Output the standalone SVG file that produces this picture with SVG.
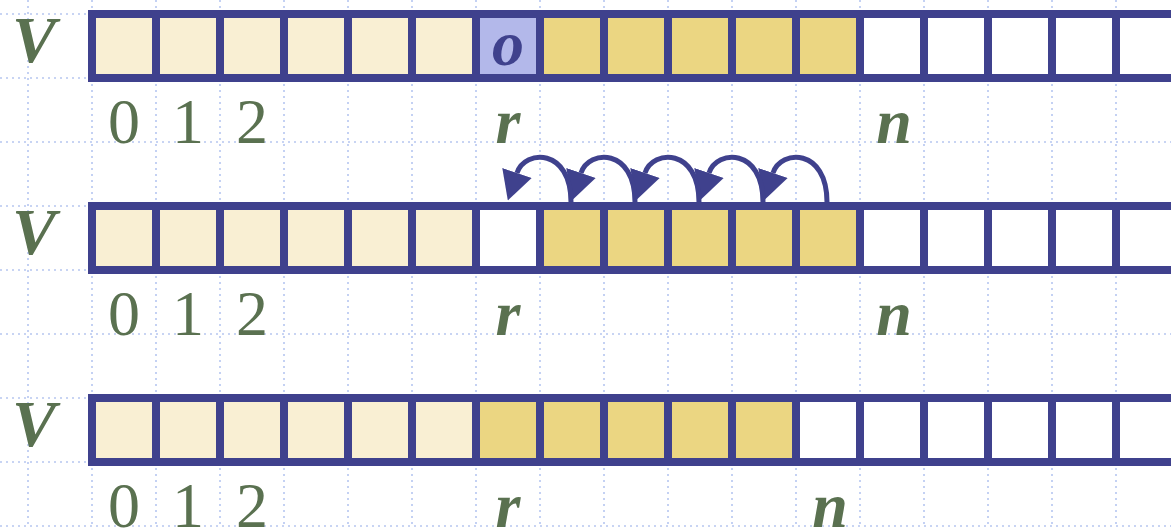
<svg xmlns="http://www.w3.org/2000/svg" width="1171" height="528" viewBox="0 0 1171 528">
<defs>
<style>
.grid line{stroke:#B6C6F0;stroke-width:1.6;stroke-dasharray:2 4}
.cell{stroke:#3F418D;stroke-width:8}
.cr{fill:#F9EFD3}
.gd{fill:#EBD682}
.lv{fill:#B3B8EA}
.wh{fill:#FFFFFF}
.lbl{font-family:"Liberation Serif",serif;fill:#5A7150;font-size:64px}
.it{font-style:italic;font-weight:bold}
.big{font-size:66px}
.arc{fill:none;stroke:#3F418D;stroke-width:5}
</style>
<marker id="ah" markerUnits="userSpaceOnUse" viewBox="0 0 29 31" refX="0" refY="15.5" markerWidth="29" markerHeight="31" orient="auto">
<path d="M0,0 L29,15.5 L0,31 z" fill="#3F418D"/>
</marker>
</defs>
<rect width="1171" height="528" fill="#FFFFFF"/>
<g class="grid">
<line x1="0" y1="14" x2="1171" y2="14"/><line x1="0" y1="78" x2="1171" y2="78"/><line x1="0" y1="142" x2="1171" y2="142"/><line x1="0" y1="206" x2="1171" y2="206"/><line x1="0" y1="270" x2="1171" y2="270"/><line x1="0" y1="334" x2="1171" y2="334"/><line x1="0" y1="398" x2="1171" y2="398"/><line x1="0" y1="462" x2="1171" y2="462"/><line x1="0" y1="526" x2="1171" y2="526"/>
<line x1="28" y1="0" x2="28" y2="528"/><line x1="92" y1="0" x2="92" y2="528"/><line x1="156" y1="0" x2="156" y2="528"/><line x1="220" y1="0" x2="220" y2="528"/><line x1="284" y1="0" x2="284" y2="528"/><line x1="348" y1="0" x2="348" y2="528"/><line x1="412" y1="0" x2="412" y2="528"/><line x1="476" y1="0" x2="476" y2="528"/><line x1="540" y1="0" x2="540" y2="528"/><line x1="604" y1="0" x2="604" y2="528"/><line x1="668" y1="0" x2="668" y2="528"/><line x1="732" y1="0" x2="732" y2="528"/><line x1="796" y1="0" x2="796" y2="528"/><line x1="860" y1="0" x2="860" y2="528"/><line x1="924" y1="0" x2="924" y2="528"/><line x1="988" y1="0" x2="988" y2="528"/><line x1="1052" y1="0" x2="1052" y2="528"/><line x1="1116" y1="0" x2="1116" y2="528"/>
</g>
<g id="row1">
<text class="lbl it big" x="12" y="62">V</text>
<g class="cell">
<rect class="cr" x="92" y="14" width="64" height="64"/><rect class="cr" x="156" y="14" width="64" height="64"/><rect class="cr" x="220" y="14" width="64" height="64"/><rect class="cr" x="284" y="14" width="64" height="64"/><rect class="cr" x="348" y="14" width="64" height="64"/><rect class="cr" x="412" y="14" width="64" height="64"/>
<rect class="lv" x="476" y="14" width="64" height="64"/>
<rect class="gd" x="540" y="14" width="64" height="64"/><rect class="gd" x="604" y="14" width="64" height="64"/><rect class="gd" x="668" y="14" width="64" height="64"/><rect class="gd" x="732" y="14" width="64" height="64"/><rect class="gd" x="796" y="14" width="64" height="64"/>
<rect class="wh" x="860" y="14" width="64" height="64"/><rect class="wh" x="924" y="14" width="64" height="64"/><rect class="wh" x="988" y="14" width="64" height="64"/><rect class="wh" x="1052" y="14" width="64" height="64"/><rect class="wh" x="1116" y="14" width="64" height="64"/>
</g>
<text class="lbl it" x="508" y="65" text-anchor="middle" style="fill:#3F418D">o</text>
<text class="lbl" x="124" y="143" text-anchor="middle">0</text><text class="lbl" x="188" y="143" text-anchor="middle">1</text><text class="lbl" x="252" y="143" text-anchor="middle">2</text>
<text class="lbl it" x="508" y="143" text-anchor="middle">r</text><text class="lbl it" x="894" y="143" text-anchor="middle">n</text>
</g>
<g id="row2">
<text class="lbl it big" x="12" y="254">V</text>
<g class="cell">
<rect class="cr" x="92" y="206" width="64" height="64"/><rect class="cr" x="156" y="206" width="64" height="64"/><rect class="cr" x="220" y="206" width="64" height="64"/><rect class="cr" x="284" y="206" width="64" height="64"/><rect class="cr" x="348" y="206" width="64" height="64"/><rect class="cr" x="412" y="206" width="64" height="64"/>
<rect class="wh" x="476" y="206" width="64" height="64"/>
<rect class="gd" x="540" y="206" width="64" height="64"/><rect class="gd" x="604" y="206" width="64" height="64"/><rect class="gd" x="668" y="206" width="64" height="64"/><rect class="gd" x="732" y="206" width="64" height="64"/><rect class="gd" x="796" y="206" width="64" height="64"/>
<rect class="wh" x="860" y="206" width="64" height="64"/><rect class="wh" x="924" y="206" width="64" height="64"/><rect class="wh" x="988" y="206" width="64" height="64"/><rect class="wh" x="1052" y="206" width="64" height="64"/><rect class="wh" x="1116" y="206" width="64" height="64"/>
</g>
<text class="lbl" x="124" y="335" text-anchor="middle">0</text><text class="lbl" x="188" y="335" text-anchor="middle">1</text><text class="lbl" x="252" y="335" text-anchor="middle">2</text>
<text class="lbl it" x="508" y="335" text-anchor="middle">r</text><text class="lbl it" x="894" y="335" text-anchor="middle">n</text>
</g>
<g id="row3">
<text class="lbl it big" x="12" y="446">V</text>
<g class="cell">
<rect class="cr" x="92" y="398" width="64" height="64"/><rect class="cr" x="156" y="398" width="64" height="64"/><rect class="cr" x="220" y="398" width="64" height="64"/><rect class="cr" x="284" y="398" width="64" height="64"/><rect class="cr" x="348" y="398" width="64" height="64"/><rect class="cr" x="412" y="398" width="64" height="64"/>
<rect class="gd" x="476" y="398" width="64" height="64"/><rect class="gd" x="540" y="398" width="64" height="64"/><rect class="gd" x="604" y="398" width="64" height="64"/><rect class="gd" x="668" y="398" width="64" height="64"/><rect class="gd" x="732" y="398" width="64" height="64"/>
<rect class="wh" x="796" y="398" width="64" height="64"/><rect class="wh" x="860" y="398" width="64" height="64"/><rect class="wh" x="924" y="398" width="64" height="64"/><rect class="wh" x="988" y="398" width="64" height="64"/><rect class="wh" x="1052" y="398" width="64" height="64"/><rect class="wh" x="1116" y="398" width="64" height="64"/>
</g>
<text class="lbl" x="124" y="527" text-anchor="middle">0</text><text class="lbl" x="188" y="527" text-anchor="middle">1</text><text class="lbl" x="252" y="527" text-anchor="middle">2</text>
<text class="lbl it" x="508" y="527" text-anchor="middle">r</text><text class="lbl it" x="830" y="527" text-anchor="middle">n</text>
</g>
<g id="connectors">
<path class="arc" marker-end="url(#ah)" d="M827 202 C827 148 781 149 773 173"/>
<path class="arc" marker-end="url(#ah)" d="M763 202 C763 148 717 149 709 173"/>
<path class="arc" marker-end="url(#ah)" d="M699 202 C699 148 653 149 645 173"/>
<path class="arc" marker-end="url(#ah)" d="M635 202 C635 148 589 149 581 173"/>
<path class="arc" marker-end="url(#ah)" d="M571 202 C571 148 525 149 517 173"/>
</g>
</svg>
